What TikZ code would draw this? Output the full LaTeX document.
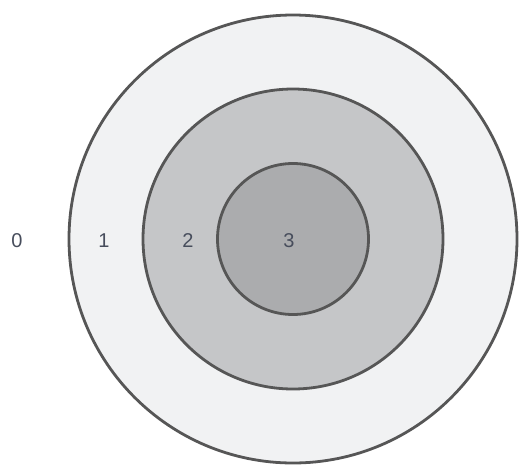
\documentclass[tikz,border=0pt]{standalone}
\usepackage{fontspec}
\setmainfont{Liberation Sans}
\usetikzlibrary{positioning}

\definecolor{ringline}{HTML}{565656}
\definecolor{zoneone}{HTML}{F1F2F3}
\definecolor{zonetwo}{HTML}{C5C6C8}
\definecolor{zonethree}{HTML}{ABACAE}
\definecolor{digit}{HTML}{474D5C}

\begin{document}
\begin{tikzpicture}[
  x=1pt, y=-1pt,
  ring/.style={draw=ringline, circle, line width=2.8pt, inner sep=0pt},
  lvl/.style={text=digit, font=\fontsize{20}{22}\selectfont, inner sep=0pt}
]
  \useasboundingbox (0,0) rectangle (522,467);
  \coordinate (c) at (293,239);

  \node[ring, fill=zoneone, minimum size=448pt] (outer) at (c) {};
  \node[ring, fill=zonetwo, minimum size=300pt] (middle) at (c) {};
  \node[ring, fill=zonethree, minimum size=151pt] (inner) at (c) {};

  \node[lvl] (l0) at (17,241) {0};
  \node[lvl] (l1) at (104,241) {1};
  \node[lvl] (l2) at (188,241) {2};
  \node[lvl] (l3) at (289,241) {3};
\end{tikzpicture}
\end{document}
